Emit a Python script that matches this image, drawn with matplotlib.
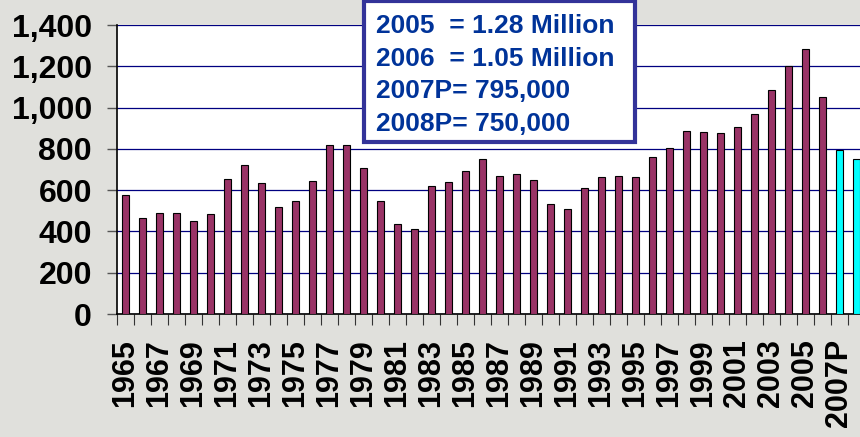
import numpy as np
import matplotlib.pyplot as plt
from matplotlib.patches import Rectangle
from matplotlib.ticker import FuncFormatter

years = [str(y) for y in range(1965, 2007)] + ['2007P', '2008P']
starts = [576, 463, 488, 488, 450, 483, 655, 720, 636, 517,
          546, 646, 817, 817, 709, 546, 434, 413, 622, 641,
          691, 749, 670, 677, 651, 531, 507, 610, 665, 670,
          665, 759, 803, 885, 882, 877, 908, 970, 1085, 1202,
          1282, 1050, 795, 750]
projected = ['2007P', '2008P']
note_lines = ['2005  = 1.28 Million', '2006  = 1.05 Million',
              '2007P= 795,000', '2008P= 750,000']

plt.rcParams['font.family'] = ['Liberation Sans', 'DejaVu Sans']
plt.rcParams['font.weight'] = 'bold'

W, H = 860, 437
fig = plt.figure(figsize=(W / 100, H / 100), dpi=100, facecolor='#e0e0dc')
ax = fig.add_axes([117 / W, 123 / H, 748 / W, 289 / H])
ax.set_facecolor('white')

x = np.arange(len(years))
colors = ['#00ffff' if y in projected else '#993366' for y in years]
ax.bar(x, starts, width=0.42, color=colors, edgecolor='black', linewidth=0.8, zorder=3)

ax.set_xlim(-0.5, len(years) - 0.5)
ax.set_ylim(0, 1400)
ax.set_yticks(np.arange(0, 1401, 200))
ax.yaxis.set_major_formatter(FuncFormatter(lambda v, p: f'{int(v):,}'))
ax.grid(axis='y', color='#000080', linewidth=0.9, zorder=1)
ax.tick_params(axis='y', labelsize=23, length=7, width=1, pad=11, color='#555555')

ax.set_xticks(x[::2])
ax.set_xticklabels(years[::2], rotation=90, fontsize=22, fontweight='bold')
ax.set_xticks(np.arange(-0.5, len(years), 1), minor=True)
ax.tick_params(axis='x', which='major', length=0, pad=18)
ax.tick_params(axis='x', which='minor', length=8, width=0.8, color='#333333')

for side in ['top', 'right']:
    ax.spines[side].set_visible(False)
ax.spines['left'].set_linewidth(1.2)
ax.spines['bottom'].set_linewidth(1.2)

# note box (figure pixel layout)
box = Rectangle((364 / W, 1 - 142 / H), 271 / W, 141 / H, transform=fig.transFigure,
                facecolor='white', edgecolor='#333399', linewidth=3, zorder=4)
fig.patches.append(box)
fig.text(376 / W, 1 - 14 / H, '\n'.join(note_lines), fontsize=19, fontweight='bold',
         color='#003399', va='top', ha='left', linespacing=1.45, zorder=5)

fig.savefig('out.png', dpi=100, facecolor=fig.get_facecolor())
